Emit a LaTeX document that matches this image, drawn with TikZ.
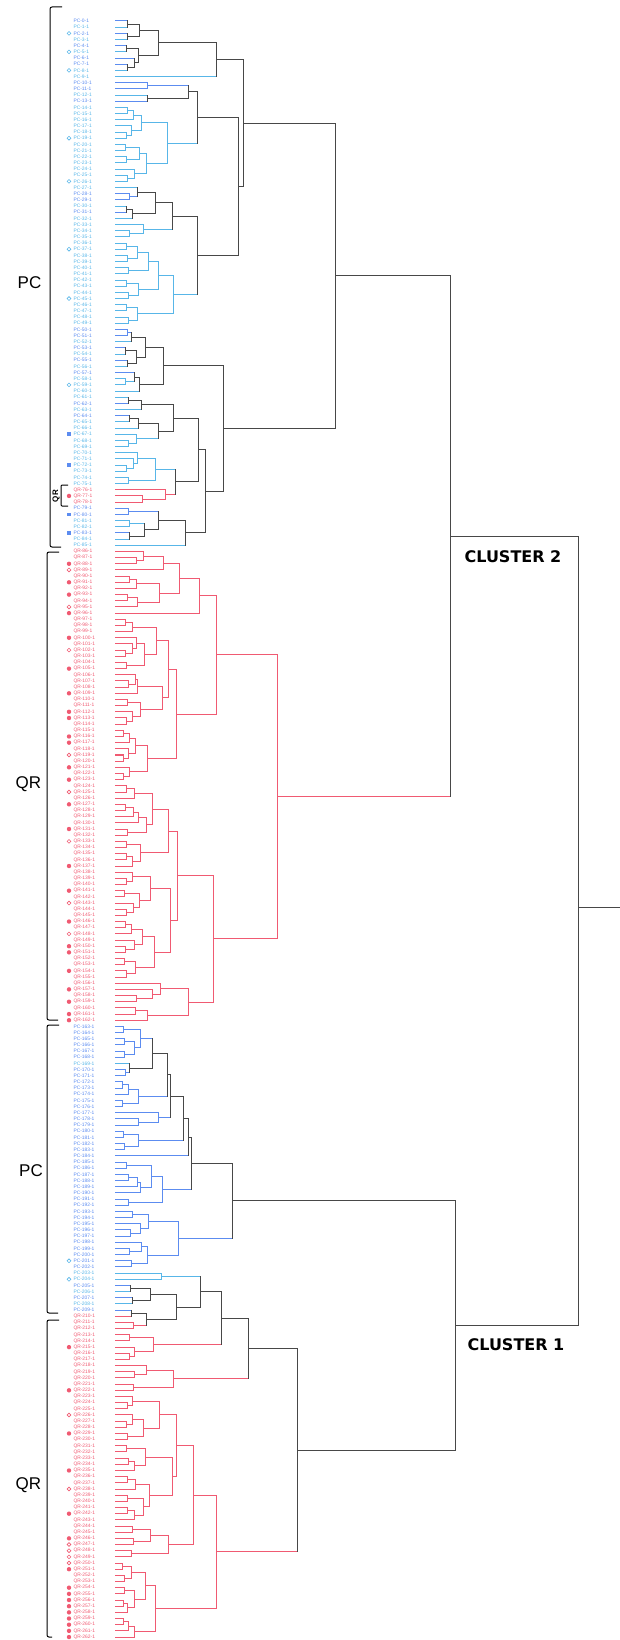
\documentclass[tikz,border=0pt]{standalone}
\usepackage{fontspec}
\setmainfont{Liberation Sans}
\newfontfamily\clfont{DejaVu Sans}
\usetikzlibrary{calc}

\definecolor{lblue}{RGB}{88,182,232}
\definecolor{pblue}{RGB}{92,140,240}
\definecolor{qred}{RGB}{240,90,114}
\definecolor{mixc}{RGB}{72,72,72}

% leaf grid (1pt = 1px of the figure)
\def\ytop{21}\def\dy{6.168}\def\xleaf{115}
\def\bluelist{,0,2,4,6,7,10,11,13,28,29,31,50,51,53,55,57,62,64,79,80,83,205,207,209,}
\def\lbluelist{,169,203,204,206,208,}
\def\redlist{,76,77,78,}

\makeatletter
\newcommand\dt@in[2]{\edef\dt@tmp{\noexpand\in@{,#1,}{#2}}\dt@tmp}
\newcommand\leafcolour[1]{%
  \ifnum#1<86 \gdef\dtcol{lblue}\else
    \ifnum#1<163 \gdef\dtcol{qred}\else
      \ifnum#1<210 \gdef\dtcol{pblue}\else\gdef\dtcol{qred}\fi
    \fi
  \fi
  \dt@in{#1}{\bluelist}\ifin@\gdef\dtcol{pblue}\fi
  \dt@in{#1}{\lbluelist}\ifin@\gdef\dtcol{lblue}\fi
  \dt@in{#1}{\redlist}\ifin@\gdef\dtcol{qred}\fi}
% automatic sub-clade over leaves #1 .. #1+#2-1
\newcommand\dt@rec[2]{%
  \ifnum#2=1
    \pgfmathsetmacro\dt@y{\ytop+#1*\dy}%
    \xdef\dtx{\xleaf}\xdef\dty{\dt@y}%
    \leafcolour{#1}%
  \else
    \begingroup
      \pgfmathtruncatemacro\dt@a{max(1,min(#2-1,round(#2*(0.3+0.4*rnd))))}%
      \pgfmathtruncatemacro\dt@b{#2-\dt@a}%
      \pgfmathtruncatemacro\dt@f{#1+\dt@a}%
      \edef\dt@next{\noexpand\dt@rec{#1}{\dt@a}}\dt@next
      \let\dt@ax\dtx\let\dt@ay\dty\let\dt@ac\dtcol
      \edef\dt@next{\noexpand\dt@rec{\dt@f}{\dt@b}}\dt@next
      \let\dt@bx\dtx\let\dt@by\dty\let\dt@bc\dtcol
      \ifnum#2=\dt@n\relax
        \pgfmathsetmacro\dt@hx{max(\dt@H,max(\dt@ax,\dt@bx)+2)}%
      \else
        \pgfmathsetmacro\dt@hx{max(max(\dt@ax,\dt@bx)+1.5,\xleaf+(\dt@H-\xleaf)*ln(#2)/ln(\dt@n)*(0.72+0.2*rnd))}%
      \fi
      \ifx\dt@ac\dt@bc\let\dt@hc\dt@ac\else\def\dt@hc{mixc}\fi
      \draw[color=\dt@ac] (\dt@ax,\dt@ay) -- (\dt@hx,\dt@ay);
      \draw[color=\dt@bc] (\dt@bx,\dt@by) -- (\dt@hx,\dt@by);
      \draw[color=\dt@hc] (\dt@hx,\dt@ay) -- (\dt@hx,\dt@by);
      \pgfmathsetmacro\dt@m{(\dt@ay+\dt@by)/2}%
      \xdef\dtx{\dt@hx}\xdef\dty{\dt@m}\xdef\dtcol{\dt@hc}%
    \endgroup
  \fi}
\newcommand\dtree[4]{%
  \begingroup\def\dt@n{#2}\def\dt@H{#4}\dt@rec{#1}{#2}\endgroup
  \coordinate (#3) at (\dtx,\dty);
  \expandafter\xdef\csname dcol@#3\endcsname{\dtcol}}
\newcommand\dleaf[2]{%
  \leafcolour{#1}\pgfmathsetmacro\dt@y{\ytop+#1*\dy}%
  \coordinate (#2) at (\xleaf,\dt@y);
  \expandafter\xdef\csname dcol@#2\endcsname{\dtcol}}
\newcommand\joinc[4]{%
  \edef\dt@ac{\csname dcol@#1\endcsname}%
  \edef\dt@bc{\csname dcol@#2\endcsname}%
  \ifx\dt@ac\dt@bc\let\dt@hc\dt@ac\else\def\dt@hc{mixc}\fi
  \draw[color=\dt@ac] (#1) -- (#3,0 |- #1);
  \draw[color=\dt@bc] (#2) -- (#3,0 |- #2);
  \draw[color=\dt@hc] (#3,0 |- #1) -- (#3,0 |- #2);
  \coordinate (#4) at ($(#3,0 |- #1)!0.5!(#3,0 |- #2)$);
  \expandafter\xdef\csname dcol@#4\endcsname{\dt@hc}}
\makeatother

\begin{document}
\begin{tikzpicture}[x=1pt,y=-1pt,line width=1pt,line cap=rect,
  grp/.style={font=\fontsize{17}{17}\selectfont,inner sep=0pt},
  clu/.style={font=\clfont\bfseries\fontsize{16}{16}\selectfont,inner sep=0pt},
  lbl/.style={font=\fontsize{4.9}{4.9}\selectfont,inner sep=0pt,anchor=west}]
  \useasboundingbox (0,0) rectangle (619,1640);
  \pgfmathsetseed{12}

  % group brackets and labels
  \draw[line cap=butt,rounded corners=2pt] (62,7) -- (50,7) -- (50,547) -- (61,547);
  \draw[line cap=butt,rounded corners=2pt] (59,552) -- (47,552) -- (47,1020) -- (58,1020);
  \draw[line cap=butt,rounded corners=2pt] (59,1025) -- (47,1025) -- (47,1313) -- (58,1313);
  \draw[line cap=butt,rounded corners=2pt] (59,1320) -- (47,1320) -- (47,1637) -- (52,1637);
  \node[grp] (tpc) at (29.5,283) {PC};
  \node[grp] (tqr) at (28.5,784) {QR};
  \node[grp] (bpc) at (31,1171) {PC};
  \node[grp] (bqr) at (28.5,1485) {QR};
  \draw[line cap=butt,rounded corners=1pt] (68,485) -- (61,485) -- (61,506) -- (68,506);
  \node[rotate=90,font=\bfseries\fontsize{8}{8}\selectfont,inner sep=0pt] (sqr) at (56,496) {QR};

  % leaf labels and markers
  \def\qq{qred}
  \foreach \i in {0,...,262}{
    \edef\lc{\noexpand\leafcolour{\i}}\lc
    \pgfmathsetmacro\yy{\ytop+\i*\dy}
    \ifx\dtcol\qq\def\pre{QR}\else\def\pre{PC}\fi
    \node[lbl,text=\dtcol] (l\i) at (73,\yy) {\pre-\i-1};
  }
  \foreach \i in {77,88,91,93,96,100,105,109,112,113,116,117,121,123,127,131,137,141,146,150,151,154,157,159,161,162,
                  215,222,229,235,242,246,251,254,255,256,257,258,259,260,261,262}{
    \pgfmathsetmacro\yy{\ytop+\i*\dy}
    \fill[qred] (69,\yy) circle (2.2);
  }
  \foreach \i in {89,95,102,119,125,133,143,148,226,238,247,248,249,250}{
    \pgfmathsetmacro\yy{\ytop+\i*\dy}
    \draw[qred,line width=0.6pt] (69,\yy) circle (1.9);
  }
  \foreach \i in {67,72,80,83}{
    \pgfmathsetmacro\yy{\ytop+\i*\dy}
    \fill[pblue] (67.2,\yy-1.8) rectangle +(3.6,3.6);
  }
  \foreach \i in {2,5,8,19,26,37,45,59,201,204}{
    \pgfmathsetmacro\yy{\ytop+\i*\dy}
    \draw[lblue,line width=0.6pt] (69,\yy) circle (1.9);
  }

  % upper PC
  \dtree{0}{9}{aa}{158}
  \dleaf{9}{ab}
  \joinc{aa}{ab}{216}{a}
  \dtree{10}{4}{ba}{188}
  \dtree{14}{13}{bb}{167}
  \joinc{ba}{bb}{197}{b}
  \dtree{27}{6}{ca}{155}
  \dtree{33}{3}{cb}{143}
  \joinc{ca}{cb}{172}{cc}
  \dtree{36}{14}{cd}{173}
  \joinc{cc}{cd}{197}{c}
  \joinc{b}{c}{238}{bc}
  \joinc{a}{bc}{243}{abc}
  \dtree{50}{11}{d1}{163}
  \dtree{61}{9}{da}{173}
  \dtree{70}{6}{db}{155}
  \dtree{76}{3}{dc}{165}
  \joinc{db}{dc}{175}{dd}
  \joinc{da}{dd}{198}{de}
  \dtree{79}{6}{df}{158}
  \dleaf{85}{dg}
  \joinc{df}{dg}{185}{dh}
  \joinc{de}{dh}{205}{d2}
  \joinc{d1}{d2}{223}{d}
  \joinc{abc}{d}{335}{pctop}

  % upper QR
  \dtree{86}{4}{qa}{163}
  \dtree{90}{6}{qb}{159}
  \joinc{qa}{qb}{179}{qc}
  \dleaf{96}{qd}
  \joinc{qc}{qd}{199}{q1a}
  \dtree{97}{9}{qe}{156}
  \dtree{106}{9}{qf}{162}
  \joinc{qe}{qf}{168}{qg}
  \dtree{115}{9}{qh}{147}
  \joinc{qg}{qh}{176}{q1b}
  \joinc{q1a}{q1b}{216}{q1}
  \dtree{124}{14}{qi}{168}
  \dtree{138}{18}{qj}{170}
  \joinc{qi}{qj}{177}{qk}
  \dtree{156}{7}{ql}{188}
  \joinc{qk}{ql}{213}{q2}
  \joinc{q1}{q2}{277}{qrtop}
  \joinc{pctop}{qrtop}{450}{cl2}

  % lower PC
  \dtree{163}{9}{ea}{152}
  \dtree{172}{5}{eb}{138}
  \joinc{ea}{eb}{167}{ec}
  \dtree{177}{3}{ed}{158}
  \joinc{ec}{ed}{170}{ee}
  \dtree{180}{4}{ef}{138}
  \joinc{ee}{ef}{183}{eg}
  \dleaf{184}{eh}
  \joinc{eg}{eh}{188}{ei}
  \dtree{185}{8}{ej}{162}
  \joinc{ei}{ej}{191}{e1}
  \dtree{193}{10}{e2}{178}
  \joinc{e1}{e2}{232}{pcbot}

  % lower QR
  \dtree{203}{2}{fa}{161}
  \dtree{205}{8}{fb}{176}
  \joinc{fa}{fb}{200}{fc}
  \dtree{213}{5}{fd}{153}
  \joinc{fc}{fd}{221}{fe}
  \dtree{218}{5}{ff}{173}
  \joinc{fe}{ff}{248}{f1}
  \dtree{223}{8}{fg}{159}
  \dtree{231}{13}{fh}{172}
  \joinc{fg}{fh}{176}{fi}
  \dtree{244}{6}{fj}{168}
  \joinc{fi}{fj}{193}{fk}
  \dtree{250}{13}{fl}{155}
  \joinc{fk}{fl}{216}{f2}
  \joinc{f1}{f2}{297}{qrbot}
  \joinc{pcbot}{qrbot}{455}{cl1}

  % root
  \joinc{cl2}{cl1}{578}{rootmid}
  \coordinate (root) at (578,907);
  \draw[mixc] (root) -- (619,0 |- root);
  \node[clu] (c2lab) at (513,557) {CLUSTER 2};
  \node[clu] (c1lab) at (516,1345) {CLUSTER 1};
\end{tikzpicture}
\end{document}
